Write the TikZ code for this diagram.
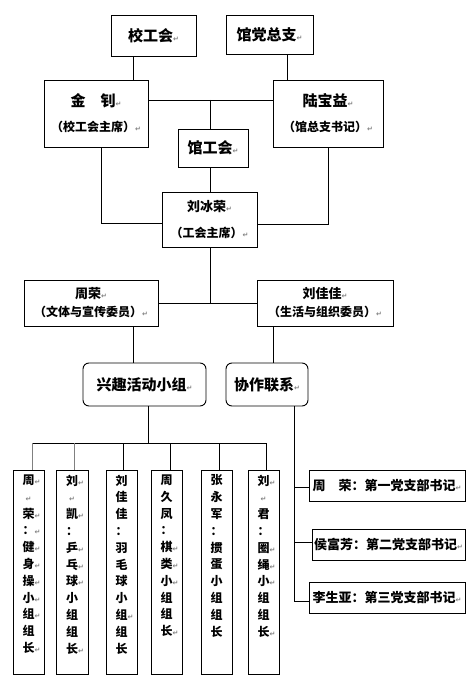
\documentclass[tikz,border=0pt]{standalone}
\usepackage{fontspec}
\setmainfont{Noto Sans CJK SC}
\newfontfamily\djv{DejaVu Sans}
\usetikzlibrary{calc}
\newcommand\retmark{{\djv\fontsize{7}{7}\selectfont\textcolor{gray}{↵}}}
\newcommand\retr{\rlap{\retmark}}
\tikzset{
  box/.style={draw, line width=0.9pt, inner sep=0pt, align=center},
  rbox/.style={box, rounded corners=6pt},
  conn/.style={line width=0.8pt},
  gconn/.style={line width=0.8pt, draw=gray},
  colbox/.style={draw, line width=0.9pt, inner sep=0pt, minimum height=204pt},
  coltext/.style={inner sep=0pt, align=center, font=\bfseries\fontsize{12}{16.8}\selectfont},
  f15/.style={font=\bfseries\fontsize{15}{18}\selectfont},
  f13/.style={font=\bfseries\fontsize{13}{16}\selectfont},
}
\begin{document}
\begin{tikzpicture}[x=1pt,y=-1pt]
\useasboundingbox (0,0) rectangle (471,679);
% top row
\node[box, f15, minimum width=85pt, minimum height=41pt] (xgh) at (153.5,35.5) {校工会\retmark};
\node[box, f15, minimum width=87pt, minimum height=39pt] (gdzz) at (269.5,34.5) {馆党总支\retmark};
\node[box, minimum width=104pt, minimum height=67pt, font=\bfseries\fontsize{12}{25}\selectfont] (jz) at (96,113.5)
  {{\fontsize{15}{25}\selectfont 金　钊\retmark}\\（校工会主席）\retmark};
\node[box, minimum width=110pt, minimum height=67pt, font=\bfseries\fontsize{12}{25}\selectfont] (lby) at (328,113.5)
  {{\fontsize{15}{25}\selectfont 陆宝益\retmark}\\（馆总支书记）\retmark};
\node[box, f15, minimum width=70pt, minimum height=38pt] (ggh) at (213,148) {馆工会\retmark};
\node[box, minimum width=95pt, minimum height=55pt, font=\bfseries\fontsize{12}{26}\selectfont] (lbr) at (209.5,219.5)
  {{\fontsize{13}{26}\selectfont 刘冰荣\retmark}\\（工会主席）\retmark};
\node[box, minimum width=134pt, minimum height=46pt, font=\bfseries\fontsize{12}{18}\selectfont] (zr) at (91,303)
  {{\fontsize{13}{18}\selectfont 周荣\retmark}\\（文体与宣传委员）\retmark};
\node[box, minimum width=136pt, minimum height=46pt, font=\bfseries\fontsize{12}{18}\selectfont] (ljj) at (325,303)
  {{\fontsize{13}{18}\selectfont 刘佳佳\retmark}\\（生活与组织委员）\retmark};
\node[rbox, f15, minimum width=123pt, minimum height=43pt] (xq) at (144.5,384.5) {兴趣活动小组\retmark};
\node[rbox, f15, minimum width=82pt, minimum height=43pt] (xz) at (267,384.5) {协作联系\retmark};
% columns
\node[colbox, minimum width=31pt] (c1) at (28.5,572) {};
\node[colbox, minimum width=32pt] (c2) at (72,572) {};
\node[colbox, minimum width=31pt] (c3) at (121.5,572) {};
\node[colbox, minimum width=31pt] (c4) at (166.5,572) {};
\node[colbox, minimum width=31pt] (c5) at (216.5,572) {};
\node[colbox, minimum width=31pt] (c6) at (263.5,572) {};
\node[coltext, anchor=north] (t1) at ([yshift=-5pt]c1.north)
  {周\retr\\\retmark\\荣\retr\\：\retr\\健\retr\\身\retr\\操\retr\\小\retr\\组\retr\\组\\长\retr};
\node[coltext, anchor=north] (t2) at ([yshift=-5pt]c2.north)
  {刘\retr\\\retmark\\凯\retr\\：\\乒\retr\\乓\retr\\球\retr\\小\\组\\组\\长\retr};
\node[coltext, anchor=north] (t3) at ([yshift=-5pt]c3.north)
  {刘\\佳\\佳\\：\\羽\\毛\\球\\小\\组\retr\\组\\长};
\node[coltext, anchor=north] (t4) at ([yshift=-5pt]c4.north)
  {周\\久\\凤\\：\\棋\retr\\类\retr\\小\retr\\组\\组\\长\retr};
\node[coltext, anchor=north] (t5) at ([yshift=-5pt]c5.north)
  {张\\永\\军\\：\\掼\\蛋\\小\\组\\组\\长};
\node[coltext, anchor=north] (t6) at ([yshift=-5pt]c6.north)
  {刘\retr\\\retmark\\君\\：\\圈\retr\\绳\retr\\小\retr\\组\\组\\长\retr};
% right boxes
\node[box, f13, minimum width=156pt, minimum height=31pt] (r1) at (387,485.5) {周　荣：第一党支部书记\retmark};
\node[box, f13, minimum width=153pt, minimum height=31pt] (r2) at (388.5,544.5) {侯富芳：第二党支部书记\retmark};
\node[box, f13, minimum width=156pt, minimum height=31pt] (r3) at (387,597.5) {李生亚：第三党支部书记\retmark};
% connectors
\draw[conn] ([xshift=-20pt]xgh.south) -- ([xshift=-20pt]xgh.south |- jz.north);
\draw[conn] ([xshift=17.5pt]gdzz.south) -- ([xshift=17.5pt]gdzz.south |- lby.north);
\draw[conn] ([yshift=13.5pt]jz.east) -- ([yshift=13.5pt]jz.east -| lby.west);
\coordinate (m1) at (210,100);
\draw[conn] (m1) -- (m1 |- ggh.north);
\draw[conn] (m1 |- ggh.south) -- (m1 |- lbr.north);
\draw[conn] ([xshift=5pt]jz.south) |- ([yshift=-3.5pt]lbr.west);
\draw[conn] (lby.south) |- ([yshift=-4.5pt]lbr.east);
\draw[conn] (m1 |- lbr.south) -- (m1 |- zr.east);
\draw[conn] (zr.east) -- (ljj.west);
\draw[conn] ([xshift=42pt]zr.south) -- ([xshift=42pt]zr.south |- xq.north);
\draw[conn] ([xshift=-52pt]ljj.south) -- ([xshift=-52pt]ljj.south |- xz.north);
\coordinate (bus) at (148,443);
\coordinate (d1) at ([xshift=3.5pt]c1.north);
\coordinate (d2) at ([xshift=2pt]c2.north);
\coordinate (d3) at ([xshift=1.5pt]c3.north);
\coordinate (d4) at ([xshift=3.5pt]c4.north);
\coordinate (d5) at ([xshift=2.5pt]c5.north);
\coordinate (d6) at ([xshift=2.5pt]c6.north);
\draw[conn] (bus |- xq.south) -- (bus);
\draw[conn] (bus -| d1) -- (bus -| d6);
\draw[gconn] (bus -| d1) -- (d1);
\draw[gconn] (bus -| d2) -- (d2);
\foreach \d in {d3,d4,d5,d6} \draw[conn] (bus -| \d) -- (\d);
\coordinate (sp) at ([xshift=27pt]xz.south);
\draw[conn] (sp) |- ([yshift=-3.5pt]r3.west);
\draw[conn] ([yshift=-1.5pt]r1.west -| sp) -- ([yshift=-1.5pt]r1.west);
\draw[conn] ([yshift=2.5pt]r2.west -| sp) -- ([yshift=2.5pt]r2.west);
\end{tikzpicture}
\end{document}
